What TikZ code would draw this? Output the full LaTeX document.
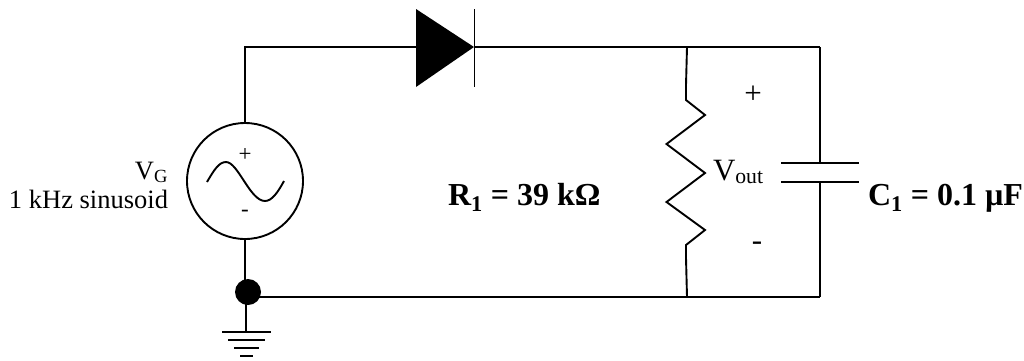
\documentclass[tikz,border=0pt]{standalone}
\usepackage{fontspec}
\setmainfont{Liberation Serif}
\tikzset{
  wire/.style={line width=1.9pt,line join=miter,line cap=butt},
  lbl/.style={inner sep=0pt,outer sep=0pt,font=\fontsize{26.5}{30}\selectfont},
  outlbl/.style={inner sep=0pt,outer sep=0pt,font=\fontsize{31}{36}\selectfont},
  boldlbl/.style={inner sep=0pt,outer sep=0pt,font=\fontsize{32}{36}\selectfont\bfseries},
  small/.style={inner sep=0pt,outer sep=0pt,font=\fontsize{23}{26}\selectfont}
}
\begin{document}
\begin{tikzpicture}[x=1pt,y=-1pt]
\useasboundingbox (0,0) rectangle (1024,360);
% source
\node[circle,draw,line width=1.9pt,minimum size=116pt,inner sep=0pt] (src) at (245,181) {};
\draw[wire] (207,182) .. controls (214,170) and (219,162) .. (226,162) .. controls (238,162) and (250,201) .. (265,201) .. controls (272,201) and (278,192) .. (284,181);
\node[small] (sp) at (245,155) {+};
\node[small] (sm) at (245,213) {-};
% diode
\coordinate (dl) at (416,47);
\coordinate (dr) at (474,47);
\coordinate (tl) at (245,47);
\coordinate (tr) at (687,47);
\coordinate (trr) at (820,47);
\fill (416,9) -- (474,47) -- (416,87) -- cycle;
\draw[wire] (474.5,9) -- (474.5,87);
\draw[wire] (src.north) -- (tl) -- (dl);
\draw[wire] (dr) -- (trr);
% ground
\node[circle,fill=black,minimum size=26pt,inner sep=0pt] (dot) at (248,292) {};
\coordinate (gt) at (246,332);
\coordinate (br) at (687,297);
\coordinate (brr) at (820,297);
\draw[wire] (src.south) -- (245,292);
\draw[wire] (246,292) -- (gt);
\draw[wire] (248,297) -- (brr);
\draw[wire] (222,332) -- (271,332);
\draw[wire] (228,340) -- (265,340);
\draw[wire] (234,348) -- (259,348);
\draw[wire] (240,356) -- (253,356);
% resistor
\draw[wire] (tr) -- (686,85) -- (686,100) -- (705,115) -- (666.5,144) -- (705,173) -- (666.5,202) -- (705,230) -- (686,245) -- (686,258) -- (br);
% capacitor
\coordinate (cpt) at (820,163);
\coordinate (cpb) at (820,182);
\draw[wire] (trr) -- (cpt);
\draw[wire] (cpb) -- (brr);
\draw[wire] (781,163) -- (859,163);
\draw[wire] (781,182) -- (859,182);
% labels
\node[lbl,anchor=base east] (vg) at (168,179) {V\textsubscript{G}};
\node[lbl,anchor=base east] (ks) at (168,208) {1 kHz sinusoid};
\node[outlbl,anchor=base west] (vo) at (713,180) {V\textsubscript{out}};
\node[outlbl] (vp) at (753,95) {+};
\node[outlbl] (vm) at (757,246) {-};
\node[boldlbl,anchor=base west] (r1) at (448,205) {R\textsubscript{1} = 39 kΩ};
\node[boldlbl,anchor=base west] (c1) at (868,205) {C\textsubscript{1} = 0.1 µF};
\end{tikzpicture}
\end{document}
